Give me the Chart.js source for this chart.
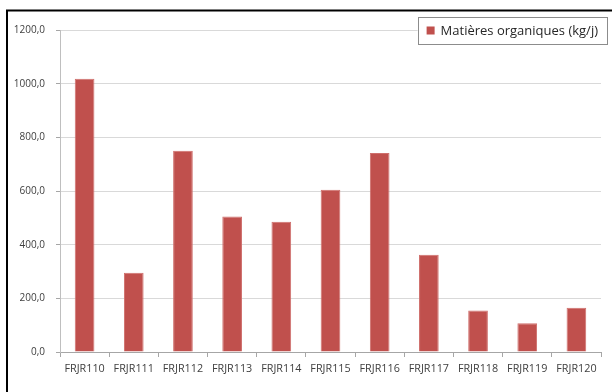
<!DOCTYPE html>
<html>
<head>
<meta charset="utf-8">
<script src="https://cdn.jsdelivr.net/npm/chart.js@4/dist/chart.umd.min.js"></script>
<style>
html,body{margin:0;padding:0;background:#fff;}
#wrap{width:612px;height:392px;position:relative;}
</style>
</head>
<body>
<div id="wrap"><canvas id="c" width="612" height="392"></canvas></div>
<script>
const categories = ["FRJR110","FRJR111","FRJR112","FRJR113","FRJR114","FRJR115","FRJR116","FRJR117","FRJR118","FRJR119","FRJR120"];
const seriesName = "Matières organiques (kg/j)";
const values = [1018, 295, 750, 505, 485, 605, 742, 362, 155, 107, 165];
const yTicks = [0, 200, 400, 600, 800, 1000, 1200];

const frameAndLegend = {
  id: 'frameAndLegend',
  afterDraw(chart) {
    const ctx = chart.ctx;
    ctx.save();
    ctx.strokeStyle = '#000';
    ctx.lineWidth = 2;
    ctx.beginPath();
    ctx.moveTo(7, 392);
    ctx.lineTo(7, 10.5);
    ctx.lineTo(612, 10.5);
    ctx.stroke();
    const ds = chart.data.datasets[0];
    ctx.font = '13px "Open Sans", "Liberation Sans", sans-serif';
    const tw = ctx.measureText(ds.label).width;
    const right = 607, top = 17, h = 27;
    const w = tw + 32;
    const left = right - w;
    ctx.fillStyle = '#fff';
    ctx.fillRect(left, top, w, h);
    ctx.strokeStyle = '#8c8c8c';
    ctx.lineWidth = 1;
    ctx.strokeRect(Math.round(left) + 0.5, top + 0.5, Math.round(w), h);
    ctx.fillStyle = ds.backgroundColor;
    ctx.fillRect(left + 9, top + h / 2 - 4, 8, 8);
    ctx.fillStyle = '#262626';
    ctx.textBaseline = 'middle';
    ctx.textAlign = 'left';
    ctx.fillText(ds.label, left + 23, top + h / 2 + 0.5);
    ctx.restore();
  }
};

new Chart(document.getElementById('c'), {
  type: 'bar',
  data: {
    labels: categories,
    datasets: [{
      label: seriesName,
      data: values,
      backgroundColor: '#c0504d',
      borderColor: '#cf6f6c',
      borderWidth: 1,
      barPercentage: 0.4,
      categoryPercentage: 1.0
    }]
  },
  options: {
    responsive: false,
    animation: false,
    devicePixelRatio: 1,
    layout: { padding: { left: 0, right: 11, top: 30, bottom: 0 } },
    plugins: {
      legend: { display: false },
      tooltip: { enabled: false }
    },
    scales: {
      x: {
        grid: {
          display: true,
          drawOnChartArea: false,
          offset: true,
          tickLength: 5,
          color: '#a6a6a6'
        },
        border: { color: '#a6a6a6', width: 1 },
        ticks: {
          color: '#404040',
          font: { family: '"Open Sans", "Liberation Sans", sans-serif', size: 10.8 },
          maxRotation: 0,
          autoSkip: false,
          padding: 5
        },
        afterFit(scale) { scale.height = 40; }
      },
      y: {
        min: 0,
        max: 1200,
        afterBuildTicks(scale) { scale.ticks = yTicks.map(v => ({ value: v })); },
        grid: {
          color: '#d9d9d9',
          tickColor: '#a6a6a6',
          tickLength: 4
        },
        border: { color: '#bfbfbf', width: 1 },
        ticks: {
          color: '#404040',
          font: { family: '"Open Sans", "Liberation Sans", sans-serif', size: 10 },
          padding: 11,
          callback: (v) => v.toFixed(1).replace('.', ',')
        },
        afterFit(scale) { scale.width = 60; }
      }
    }
  },
  plugins: [frameAndLegend]
});
</script>
</body>
</html>
